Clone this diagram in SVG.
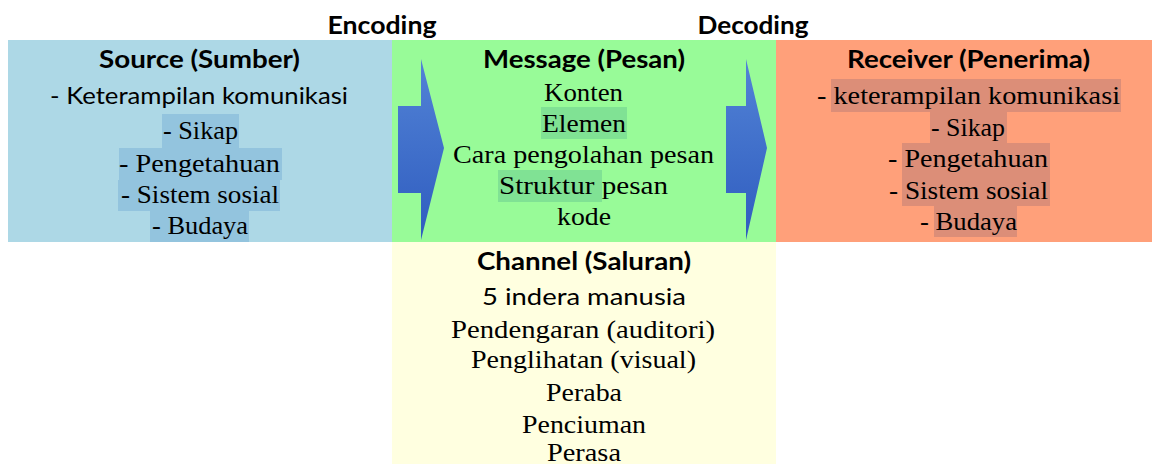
<svg xmlns="http://www.w3.org/2000/svg" width="1152" height="464" viewBox="0 0 1152 464">
<defs>
<linearGradient id="arrowGrad" x1="0" y1="0" x2="0" y2="1">
<stop offset="0" stop-color="#5283d6"/>
<stop offset="1" stop-color="#2f5cbf"/>
</linearGradient>
<style>
.title{font-family:Lato,"Open Sans",sans-serif;font-weight:bold;font-size:24px;fill:#000;text-anchor:middle}
.sans{font-family:Lato,"Open Sans",sans-serif;font-size:24px;fill:#000;text-anchor:middle}
.serif{font-family:"Liberation Serif",serif;font-size:25.5px;fill:#000;text-anchor:middle}
.hlB{fill:#93c4de}
.hlG{fill:#80e294}
.hlR{fill:#dc8e78}
</style>
</defs>
<rect x="0" y="0" width="1152" height="464" fill="#ffffff"/>
<g id="labels">
<text class="title" x="382" y="34" textLength="109" lengthAdjust="spacingAndGlyphs">Encoding</text>
<text class="title" x="753" y="34" textLength="111" lengthAdjust="spacingAndGlyphs">Decoding</text>
</g>
<g id="source">
<rect x="8" y="40" width="384" height="202" fill="#add8e6"/>
<rect class="hlB" x="162" y="114" width="77" height="34"/>
<rect class="hlB" x="119" y="148" width="163" height="32"/>
<rect class="hlB" x="118" y="180" width="162" height="31"/>
<rect class="hlB" x="150" y="211" width="99" height="31"/>
<text class="title" x="199.5" y="68" textLength="201" lengthAdjust="spacingAndGlyphs">Source (Sumber)</text>
<text class="sans" x="199" y="104" textLength="298" lengthAdjust="spacingAndGlyphs">- Keterampilan komunikasi</text>
<text class="serif" x="200.5" y="139" textLength="75" lengthAdjust="spacingAndGlyphs">- Sikap</text>
<text class="serif" x="199.5" y="172" textLength="161" lengthAdjust="spacingAndGlyphs">- Pengetahuan</text>
<text class="serif" x="200" y="203" textLength="158" lengthAdjust="spacingAndGlyphs">- Sistem sosial</text>
<text class="serif" x="200" y="234" textLength="96" lengthAdjust="spacingAndGlyphs">- Budaya</text>
</g>
<g id="message">
<rect x="392" y="40" width="384" height="202" fill="#98fb98"/>
<rect class="hlG" x="541" y="107" width="86" height="32"/>
<rect class="hlG" x="498" y="170" width="104" height="32"/>
<text class="title" x="584" y="68" textLength="202" lengthAdjust="spacingAndGlyphs">Message (Pesan)</text>
<text class="serif" x="583.5" y="101" textLength="79" lengthAdjust="spacingAndGlyphs">Konten</text>
<text class="serif" x="584" y="132" textLength="84" lengthAdjust="spacingAndGlyphs">Elemen</text>
<text class="serif" x="583.5" y="163" textLength="261" lengthAdjust="spacingAndGlyphs">Cara pengolahan pesan</text>
<text class="serif" x="583.5" y="194" textLength="169" lengthAdjust="spacingAndGlyphs">Struktur pesan</text>
<text class="serif" x="584" y="225" textLength="54" lengthAdjust="spacingAndGlyphs">kode</text>
</g>
<g id="receiver">
<rect x="776" y="40" width="376" height="202" fill="#ffa07a"/>
<rect class="hlR" x="831" y="79" width="290" height="33"/>
<rect class="hlR" x="930" y="112" width="77" height="31"/>
<rect class="hlR" x="902" y="143" width="148" height="31"/>
<rect class="hlR" x="902" y="174" width="148" height="32"/>
<rect class="hlR" x="934" y="206" width="83" height="31"/>
<text class="title" x="968.5" y="68" textLength="243" lengthAdjust="spacingAndGlyphs">Receiver (Penerima)</text>
<text class="serif" x="968.5" y="104" textLength="303" lengthAdjust="spacingAndGlyphs">- keterampilan komunikasi</text>
<text class="serif" x="968" y="136" textLength="74" lengthAdjust="spacingAndGlyphs">- Sikap</text>
<text class="serif" x="968" y="167" textLength="160" lengthAdjust="spacingAndGlyphs">- Pengetahuan</text>
<text class="serif" x="968.5" y="199" textLength="159" lengthAdjust="spacingAndGlyphs">- Sistem sosial</text>
<text class="serif" x="968.5" y="230" textLength="97" lengthAdjust="spacingAndGlyphs">- Budaya</text>
</g>
<g id="channel">
<rect x="392" y="242" width="384" height="222" fill="#ffffe0"/>
<text class="title" x="584" y="270" textLength="214" lengthAdjust="spacingAndGlyphs">Channel (Saluran)</text>
<text class="sans" x="584" y="305" textLength="204" lengthAdjust="spacingAndGlyphs">5 indera manusia</text>
<text class="serif" x="583" y="338" textLength="264" lengthAdjust="spacingAndGlyphs">Pendengaran (auditori)</text>
<text class="serif" x="583.5" y="368" textLength="225" lengthAdjust="spacingAndGlyphs">Penglihatan (visual)</text>
<text class="serif" x="584" y="401" textLength="76" lengthAdjust="spacingAndGlyphs">Peraba</text>
<text class="serif" x="584" y="433" textLength="124" lengthAdjust="spacingAndGlyphs">Penciuman</text>
<text class="serif" x="584" y="461" textLength="74" lengthAdjust="spacingAndGlyphs">Perasa</text>
</g>
<g id="connectors">
<polygon points="398,106 421,106 421,59 444,148 421,240 421,193 398,193" fill="url(#arrowGrad)"/>
<polygon points="726,106 746,106 746,59 767,148 746,240 746,193 726,193" fill="url(#arrowGrad)"/>
</g>
</svg>
